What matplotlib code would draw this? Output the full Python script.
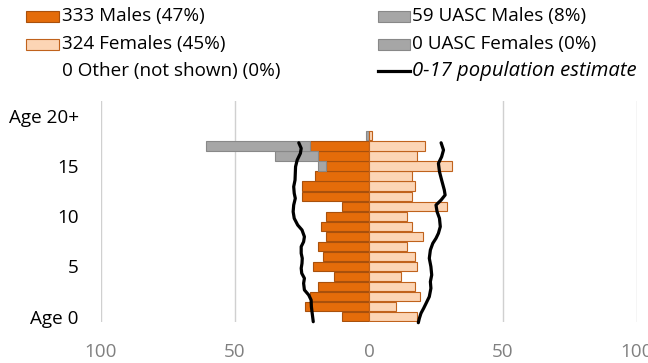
import matplotlib
matplotlib.use("Agg")
import matplotlib.pyplot as plt
from matplotlib.patches import Rectangle
from matplotlib.lines import Line2D
import numpy as np

plt.rcParams['font.family'] = ['Open Sans', 'DejaVu Sans']

# ---- data (index 0..21 = age rows; 20 = "Age 20+") ----
age_idx = list(range(22))
males = [10, 24, 22, 19, 13, 21, 17, 19, 16, 18, 16, 10, 25, 25, 20, 16, 19, 22, 0, 0, 0, 0]
uasc_males = [0, 0, 0, 0, 0, 0, 0, 0, 0, 0, 0, 0, 0, 0, 0, 3, 16, 39, 1, 0, 0, 0]
females = [18, 10, 19, 17, 12, 18, 17, 14, 20, 16, 14, 29, 16, 17, 16, 31, 18, 21, 1, 0, 0, 0]
uasc_females = [0] * 22

ytick_pos = [0, 5, 10, 15, 20]
ytick_labels = ["Age 0", "5", "10", "15", "Age 20+"]
xtick_pos = [-100, -50, 0, 50, 100]
xtick_labels = ["100", "50", "0", "50", "100"]

# population estimate (0-17) line
pop_left_age = [-0.5, 0.34, 1.0, 1.66, 2.16, 2.66, 3.32, 3.82, 4.32, 4.82, 5.31, 5.81, 6.31,
                6.97, 7.46, 7.96, 8.63, 9.12, 9.79, 10.45, 11.11, 11.78, 12.28, 12.94,
                13.6, 14.27, 14.93, 15.59, 16.26, 16.76, 17.31]
pop_left_val = [-20.8, -21.2, -21.5, -21.6, -22.5, -24.1, -24.4, -24.1, -25.1, -25.3, -25.0,
                -24.9, -25.3, -25.3, -24.4, -24.1, -25.0, -26.6, -27.9, -28.3, -28.1, -27.5,
                -27.9, -28.1, -27.6, -27.5, -27.4, -26.8, -25.6, -25.3, -26.2]
pop_right_age = [-0.6, -0.16, 0.34, 0.84, 1.33, 1.99, 2.83, 3.48, 4.15, 4.98, 5.81, 6.64,
                 7.3, 7.8, 8.3, 8.96, 9.79, 10.45, 11.11, 11.61, 12.11, 12.61, 13.6, 14.43,
                 15.26, 15.92, 16.59, 17.31]
pop_right_val = [18.4, 18.8, 19.4, 20.4, 21.3, 22.5, 23.1, 22.9, 23.4, 23.1, 22.5, 22.9,
                 23.8, 25.0, 25.9, 26.6, 26.3, 25.4, 25.0, 26.9, 28.4, 28.1, 27.1, 26.3,
                 25.9, 27.1, 27.8, 26.9]

legend_left = ["333 Males (47%)", "324 Females (45%)", "0 Other (not shown) (0%)"]
legend_right = ["59 UASC Males (8%)", "0 UASC Females (0%)", "0-17 population estimate"]

# ---- styles ----
c_male = "#E46C0A"
c_male_edge = "#A8500C"
c_fem = "#FCD5B5"
c_fem_edge = "#C0621C"
c_gray = "#A6A6A6"
c_gray_edge = "#888888"
FS = 13.6

W, H = 648, 363
fig = plt.figure(figsize=(W / 100, H / 100), dpi=100)
ax = fig.add_axes([101 / W, (H - 321.7) / H, (637 - 101) / W, (321.7 - 100.7) / H])

y = np.array(age_idx)
m = np.array(males)
um = np.array(uasc_males)
f = np.array(females)
uf = np.array(uasc_females)
bh = 0.92


def bars(vals, left, color, edge):
    k = vals != 0
    if k.any():
        ax.barh(y[k], vals[k], left=left[k], height=bh, color=color, edgecolor=edge,
                linewidth=0.8, zorder=3)


zero = np.zeros_like(m)
bars(-m, zero, c_male, c_male_edge)
bars(-um, -m, c_gray, c_gray_edge)
bars(f, zero, c_fem, c_fem_edge)
bars(uf, f, c_gray, c_gray_edge)

ax.plot(pop_left_val, pop_left_age, color="black", lw=2.3, zorder=5, solid_capstyle="round",
        solid_joinstyle="round", clip_on=False)
ax.plot(pop_right_val, pop_right_age, color="black", lw=2.3, zorder=5, solid_capstyle="round",
        solid_joinstyle="round", clip_on=False)

ax.set_xlim(-100, 100)
ax.set_ylim(-0.5, 21.5)
for s in ax.spines.values():
    s.set_visible(False)
for gx in [-100, -50, 50, 100]:
    ax.axvline(gx, color="#D0D0D0", lw=1.0, zorder=1)
ax.set_yticks(ytick_pos)
ax.set_yticklabels(ytick_labels, fontsize=FS, color="black")
ax.set_xticks(xtick_pos)
ax.set_xticklabels(xtick_labels, fontsize=FS, color="#808080")
ax.tick_params(axis="both", length=0)
ax.tick_params(axis="y", pad=16)
ax.tick_params(axis="x", pad=15)

# ---- legend (manual) ----
def fx(px):
    return px / W

def fy(py):
    return 1 - py / H

rows_y = [16, 44, 71]
left_patches = [(c_male, c_male_edge), (c_fem, c_fem_edge), None]
for ry, lab, p in zip(rows_y, legend_left, left_patches):
    if p is not None:
        fig.patches.append(Rectangle((fx(26), fy(ry + 5.5)), fx(59) - fx(26), 11 / H,
                                     facecolor=p[0], edgecolor=p[1], lw=0.8,
                                     transform=fig.transFigure))
    fig.text(fx(62), fy(ry), lab, fontsize=FS, va="center", ha="left", color="black")

right_patches = [(c_gray, c_gray_edge), (c_gray, c_gray_edge), None]
for ry, lab, p in zip(rows_y, legend_right, right_patches):
    if p is not None:
        fig.patches.append(Rectangle((fx(378), fy(ry + 5.5)), fx(410) - fx(378), 11 / H,
                                     facecolor=p[0], edgecolor=p[1], lw=0.8,
                                     transform=fig.transFigure))
        fig.text(fx(412), fy(ry), lab, fontsize=FS, va="center", ha="left", color="black")
    else:
        fig.lines.append(Line2D([fx(378), fx(410)], [fy(ry), fy(ry)], color="black", lw=2.3,
                                transform=fig.transFigure))
        fig.text(fx(412), fy(ry), lab, fontsize=14.6, va="center", ha="left", color="black",
                 style="italic")

fig.savefig("out.png", dpi=100)
